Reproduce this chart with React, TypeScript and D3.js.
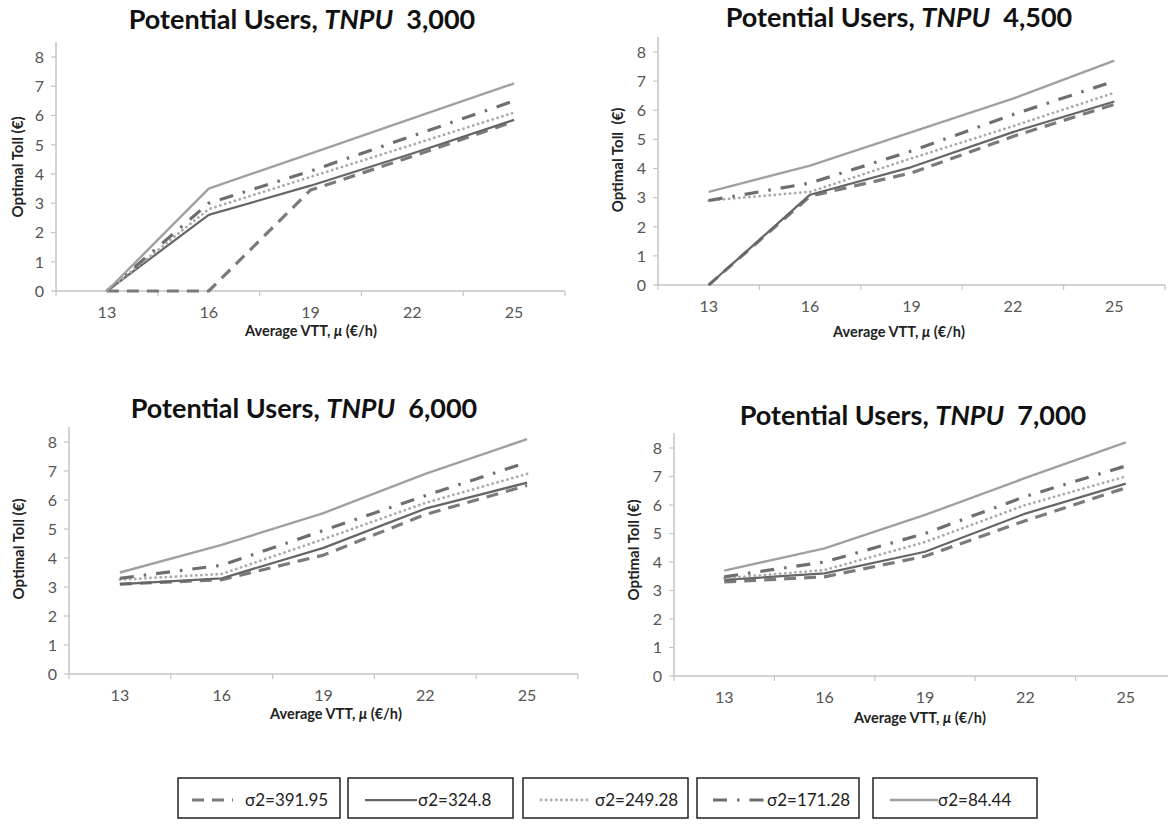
import React from 'react';
import * as d3 from 'd3';

// categories / ticks
const vttCategories = ['13', '16', '19', '22', '25'];
const tollTicks = [0, 1, 2, 3, 4, 5, 6, 7, 8];
const seriesLabels = ['σ2=391.95', 'σ2=324.8', 'σ2=249.28', 'σ2=171.28', 'σ2=84.44'];
const tnpuLabels = ['3,000', '4,500', '6,000', '7,000'];

// TNPU 3,000
const t3000_s391 = [0, 0, 3.45, 4.6, 5.8];
const t3000_s324 = [0, 2.6, 3.6, 4.7, 5.85];
const t3000_s249 = [0, 2.8, 3.9, 5.0, 6.1];
const t3000_s171 = [0, 3.0, 4.1, 5.3, 6.5];
const t3000_s84 = [0, 3.5, 4.7, 5.9, 7.1];

// TNPU 4,500
const t4500_s391 = [0, 3.05, 3.85, 5.1, 6.2];
const t4500_s324 = [0, 3.1, 4.05, 5.25, 6.3];
const t4500_s249 = [2.9, 3.2, 4.35, 5.45, 6.6];
const t4500_s171 = [2.9, 3.5, 4.6, 5.85, 7.0];
const t4500_s84 = [3.2, 4.1, 5.25, 6.4, 7.7];

// TNPU 6,000
const t6000_s391 = [3.1, 3.25, 4.1, 5.5, 6.5];
const t6000_s324 = [3.1, 3.3, 4.35, 5.7, 6.6];
const t6000_s249 = [3.25, 3.45, 4.65, 5.9, 6.9];
const t6000_s171 = [3.3, 3.75, 4.95, 6.15, 7.3];
const t6000_s84 = [3.5, 4.45, 5.55, 6.9, 8.1];

// TNPU 7,000
const t7000_s391 = [3.3, 3.48, 4.2, 5.45, 6.6];
const t7000_s324 = [3.37, 3.6, 4.36, 5.7, 6.75];
const t7000_s249 = [3.43, 3.72, 4.7, 6.0, 7.0];
const t7000_s171 = [3.48, 4.0, 5.0, 6.3, 7.37];
const t7000_s84 = [3.7, 4.48, 5.65, 6.95, 8.2];

const panelSeries = [
  [t3000_s391, t3000_s324, t3000_s249, t3000_s171, t3000_s84],
  [t4500_s391, t4500_s324, t4500_s249, t4500_s171, t4500_s84],
  [t6000_s391, t6000_s324, t6000_s249, t6000_s171, t6000_s84],
  [t7000_s391, t7000_s324, t7000_s249, t7000_s171, t7000_s84],
];

const lineStyles = [
  { stroke: '#7a7a7a', width: 3.2, dash: '12,8', cap: 'butt' },
  { stroke: '#666666', width: 2.25, dash: null, cap: 'butt' },
  { stroke: '#ababab', width: 2.8, dash: '0.1,5', cap: 'round' },
  { stroke: '#6e6e6e', width: 3.2, dash: '14,10,2.5,10', cap: 'butt' },
  { stroke: '#a0a0a0', width: 2.4, dash: null, cap: 'butt' },
];

// layout of each panel (pixels)
const panels = [
  { left: 56, right: 565, bottom: 291, top8: 57, titleX: 302, titleY: 29, yTitleX: 18, yTitleY: 167, xTitleX: 311, xTitleY: 336, yTitle: 'Optimal Toll (€)' },
  { left: 658, right: 1165, bottom: 285, top8: 52, titleX: 899, titleY: 27, yTitleX: 618, yTitleY: 160, xTitleX: 899, xTitleY: 337, yTitle: 'Optimal Toll  (€)' },
  { left: 69, right: 578, bottom: 674, top8: 442, titleX: 304, titleY: 418, yTitleX: 19, yTitleY: 549, xTitleX: 336, xTitleY: 719, yTitle: 'Optimal Toll (€)' },
  { left: 674, right: 1176, bottom: 676, top8: 448, titleX: 913, titleY: 425, yTitleX: 634, yTitleY: 550, xTitleX: 920, xTitleY: 723, yTitle: 'Optimal Toll (€)' },
];

const legendBoxes = [
  { x: 178, w: 162, sw0: 192, sw1: 233, tx: 245 },
  { x: 348, w: 165, sw0: 365, sw1: 417, tx: 418 },
  { x: 523, w: 165, sw0: 541, sw1: 588, tx: 595 },
  { x: 697, w: 162, sw0: 713, sw1: 766, tx: 767 },
  { x: 873, w: 164, sw0: 890, sw1: 938, tx: 938 },
];

const font = 'Lato, Carlito, "Open Sans", sans-serif';

const Panel = ({ cfg, series, tnpu }) => {
  const x = d3.scaleBand().domain(vttCategories).range([cfg.left, cfg.right]);
  const y = d3.scaleLinear().domain([0, 8]).range([cfg.bottom, cfg.top8]);
  const bw = x.bandwidth();
  const line = d3.line<number>()
    .x((d, i) => x(vttCategories[i]) + bw / 2)
    .y(d => y(d));
  const boundaries = vttCategories.map(c => x(c)).concat([cfg.right]);

  return (
    <g>
      <text x={cfg.titleX} y={cfg.titleY} textAnchor="middle" fontFamily={font} fontWeight="bold"
        fontSize={27} fill="#111" style={{ whiteSpace: 'pre' }}>
        <tspan>Potential Users, </tspan>
        <tspan fontStyle="italic">TNPU</tspan>
        <tspan>{'  ' + tnpu}</tspan>
      </text>

      {/* y axis */}
      <line x1={cfg.left} x2={cfg.left} y1={y(0)} y2={y(8) - 15} stroke="#c4c4c4" strokeWidth={1.5} />
      {tollTicks.map(t => (
        <g key={t}>
          <line x1={cfg.left - 5} x2={cfg.left} y1={y(t)} y2={y(t)} stroke="#c4c4c4" strokeWidth={1.2} />
          <text x={cfg.left - 12} y={y(t)} dy="0.36em" textAnchor="end" fontFamily={font}
            fontSize={16} fill="#555">{t}</text>
        </g>
      ))}

      {/* x axis */}
      <line x1={cfg.left} x2={cfg.right} y1={y(0)} y2={y(0)} stroke="#c4c4c4" strokeWidth={1.5} />
      {boundaries.map((b, i) => (
        <line key={i} x1={b} x2={b} y1={y(0)} y2={y(0) + 5} stroke="#c4c4c4" strokeWidth={1.2} />
      ))}
      {vttCategories.map(c => (
        <text key={c} x={x(c) + bw / 2} y={y(0) + 27} textAnchor="middle" fontFamily={font}
          fontSize={16} fill="#555">{c}</text>
      ))}

      <text x={cfg.xTitleX} y={cfg.xTitleY} textAnchor="middle" fontFamily={font} fontWeight="bold"
        fontSize={14.5} fill="#222">Average VTT, <tspan fontStyle="italic">μ</tspan> (€/h)</text>
      <text transform={`translate(${cfg.yTitleX},${cfg.yTitleY}) rotate(-90)`} textAnchor="middle"
        dy="0.35em" fontFamily={font} fontWeight="bold" fontSize={15} fill="#222"
        style={{ whiteSpace: 'pre' }}>{cfg.yTitle}</text>

      {series.map((s, i) => (
        <path key={i} d={line(s)} fill="none" stroke={lineStyles[i].stroke}
          strokeWidth={lineStyles[i].width} strokeDasharray={lineStyles[i].dash || undefined}
          strokeLinecap={lineStyles[i].cap} strokeLinejoin="round" />
      ))}
    </g>
  );
};

export default function App() {
  return (
    <svg width={1168} height={827} style={{ position: 'absolute', left: 0, top: 0, display: 'block', background: '#fff' }}>
      {panels.map((p, i) => (
        <Panel key={i} cfg={p} series={panelSeries[i]} tnpu={tnpuLabels[i]} />
      ))}

      {legendBoxes.map((b, i) => (
        <g key={i}>
          <rect x={b.x} y={778} width={b.w} height={40} fill="none" stroke="#222" strokeWidth={1.5} />
          <line x1={b.sw0} x2={b.sw1} y1={800} y2={800} stroke={lineStyles[i].stroke}
            strokeWidth={lineStyles[i].width} strokeDasharray={lineStyles[i].dash || undefined}
            strokeLinecap={lineStyles[i].cap} />
          <text x={b.tx} y={806} fontFamily={font} fontSize={17} fill="#222">{seriesLabels[i]}</text>
        </g>
      ))}
    </svg>
  );
}
